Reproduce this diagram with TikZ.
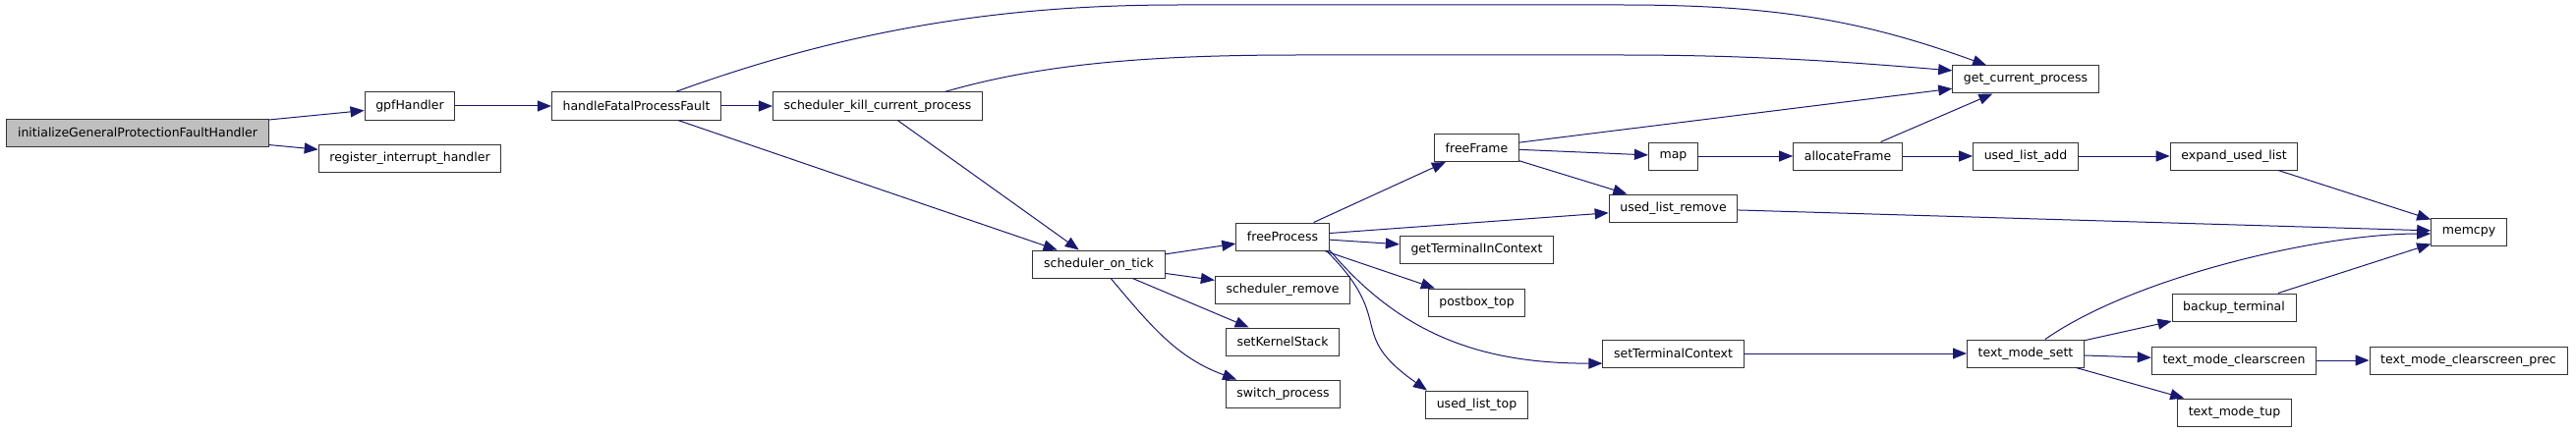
\documentclass[tikz,border=0pt]{standalone}
\usepackage{fontspec}
\setmainfont{DejaVu Sans}
\usetikzlibrary{arrows.meta}
\definecolor{edgeblue}{HTML}{191970}
\definecolor{rootgray}{HTML}{BFBFBF}

\begin{document}
\begin{tikzpicture}[x=0.5pt,y=0.5pt,
  fnbox/.style={draw=black!80,line width=0.5pt,fill=white,inner xsep=5.6pt,inner ysep=0pt,minimum height=14pt,font=\fontsize{6.25}{7.5}\selectfont},
  rootbox/.style={fnbox,fill=rootgray},
  callarrow/.style={->,draw=edgeblue,line width=0.5pt},
  >={Triangle[length=7pt,width=5.5pt]}]
\useasboundingbox (0,0) rectangle (2621,440);

% functions, one column per call depth
\node[rootbox] (init) at (140,305) {initializeGeneralProtectionFaultHandler};
\node[fnbox] (gpf) at (417,332) {gpfHandler};
\node[fnbox] (reg) at (417,279) {register\_interrupt\_handler};
\node[fnbox] (hfpf) at (647.5,332) {handleFatalProcessFault};
\node[fnbox] (skcp) at (893,332) {scheduler\_kill\_current\_process};
\node[fnbox] (sot) at (1118,171) {scheduler\_on\_tick};
\node[fnbox] (fp) at (1305,199) {freeProcess};
\node[fnbox] (srem) at (1305,145) {scheduler\_remove};
\node[fnbox] (sks) at (1305,92) {setKernelStack};
\node[fnbox] (swp) at (1305.5,39) {switch\_process};
\node[fnbox] (ff) at (1502.5,289.5) {freeFrame};
\node[fnbox] (gtic) at (1502.5,186) {getTerminalInContext};
\node[fnbox] (pbt) at (1502.5,132) {postbox\_top};
\node[fnbox] (ult) at (1502.5,28) {used\_list\_top};
\node[fnbox] (map) at (1702.5,281) {map};
\node[fnbox] (ulr) at (1702.5,228) {used\_list\_remove};
\node[fnbox] (stc) at (1702.5,80) {setTerminalContext};
\node[fnbox] (af) at (1880,281) {allocateFrame};
\node[fnbox] (gcp) at (2061,359) {get\_current\_process};
\node[fnbox] (ula) at (2061,281) {used\_list\_add};
\node[fnbox] (tms) at (2061,80) {text\_mode\_sett};
\node[fnbox] (eul) at (2273,281) {expand\_used\_list};
\node[fnbox] (bt) at (2273,127) {backup\_terminal};
\node[fnbox] (tmc) at (2273,73) {text\_mode\_clearscreen};
\node[fnbox] (tmt) at (2273.5,20) {text\_mode\_tup};
\node[fnbox] (mc) at (2512,204) {memcpy};
\node[fnbox] (tmcp) at (2511.5,73) {text\_mode\_clearscreen\_prec};

% calls
\draw[callarrow] (init) -- (gpf);
\draw[callarrow] (init) -- (reg);
\draw[callarrow] (gpf) -- (hfpf);
\draw[callarrow] (hfpf) -- (skcp);
\draw[callarrow] (hfpf.20) .. controls (886,419) and (1050,435) .. (1200,435) -- (1650,435) .. controls (1800,435) and (1891,421) .. (gcp.160);
\draw[callarrow] (hfpf) -- (sot);
\draw[callarrow] (skcp.12) .. controls (1050,372) and (1150,384) .. (1320,384) -- (1650,384) .. controls (1800,384) and (1900,375) .. (gcp.173);
\draw[callarrow] (skcp) -- (sot);
\draw[callarrow] (sot) -- (fp);
\draw[callarrow] (sot) -- (srem);
\draw[callarrow] (sot) -- (sks);
\draw[callarrow] (sot.-50) to[out=-50,in=160] (swp.163);
\draw[callarrow] (fp) -- (ff);
\draw[callarrow] (fp) -- (ulr);
\draw[callarrow] (fp) -- (gtic);
\draw[callarrow] (fp) -- (pbt);
\draw[callarrow] (fp.-16) to[out=-50,in=180] (stc.-172);
\draw[callarrow] (fp.-18) to[out=-45,in=145,looseness=1.5] (ult.164);
\draw[callarrow] (ff) -- (gcp);
\draw[callarrow] (ff) -- (map);
\draw[callarrow] (ff) -- (ulr);
\draw[callarrow] (map) -- (af);
\draw[callarrow] (af) -- (gcp);
\draw[callarrow] (af) -- (ula);
\draw[callarrow] (ula) -- (eul);
\draw[callarrow] (eul) -- (mc);
\draw[callarrow] (ulr) -- (mc);
\draw[callarrow] (stc) -- (tms);
\draw[callarrow] (tms.36) to[out=35,in=180,looseness=0.7] (mc.183);
\draw[callarrow] (tms) -- (bt);
\draw[callarrow] (tms) -- (tmc);
\draw[callarrow] (tms) -- (tmt);
\draw[callarrow] (bt) -- (mc);
\draw[callarrow] (tmc) -- (tmcp);
\end{tikzpicture}
\end{document}
